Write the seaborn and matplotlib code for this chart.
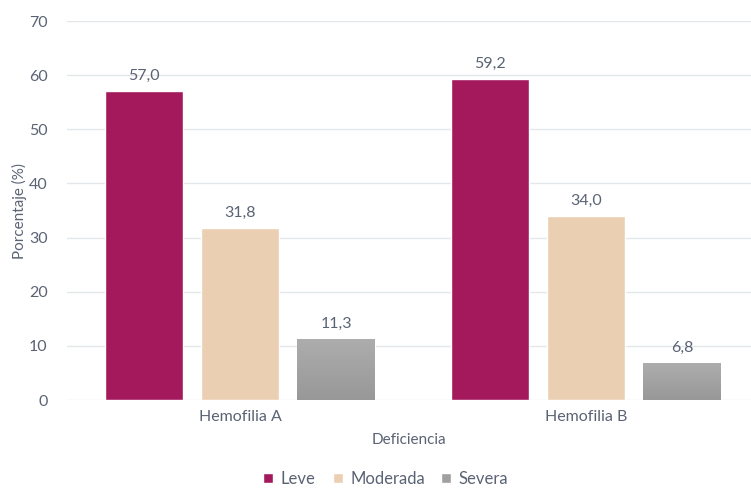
import matplotlib

matplotlib.use("Agg")

import matplotlib.pyplot as plt
import numpy as np
import pandas as pd
import seaborn as sns
from matplotlib.patches import Patch

CATEGORIES = ["Hemofilia A", "Hemofilia B"]
SEVERITIES = ["Leve", "Moderada", "Severa"]
LEVE = [57.0, 59.2]
MODERADA = [31.8, 34.0]
SEVERA = [11.3, 6.8]

PALETTE = {"Leve": "#a3195b", "Moderada": "#ebcfb2", "Severa": "#a0a0a0"}
TEXT = "#5a6374"


def main() -> None:
    sns.set_theme(style="white")
    plt.rcParams["font.family"] = ["Lato", "DejaVu Sans"]

    df = pd.DataFrame({
        "categoria": CATEGORIES * 3,
        "nivel": [s for s in SEVERITIES for _ in CATEGORIES],
        "valor": LEVE + MODERADA + SEVERA,
    })

    fig = plt.figure(figsize=(7.51, 4.9), dpi=100)
    ax = fig.add_axes([67 / 751, 90 / 490, 684 / 751, 379 / 490])

    sns.barplot(
        data=df, x="categoria", y="valor", hue="nivel",
        order=CATEGORIES, hue_order=SEVERITIES, palette=PALETTE,
        width=0.832, gap=0.1875, saturation=1, legend=False, ax=ax,
    )

    # soft vertical gradient on the "Severa" bars
    grad = np.linspace(0, 1, 256).reshape(-1, 1)
    cmap = matplotlib.colors.LinearSegmentedColormap.from_list("g", ["#989898", "#adadad"])
    for bar in ax.containers[2]:
        x0, y0 = bar.get_x(), bar.get_y()
        w, h = bar.get_width(), bar.get_height()
        im = ax.imshow(grad, extent=(x0, x0 + w, y0, y0 + h), origin="lower",
                       cmap=cmap, aspect="auto", zorder=bar.get_zorder())
        im.set_clip_path(bar)

    for container in ax.containers:
        labels = [f"{b.get_height():.1f}".replace(".", ",") for b in container]
        ax.bar_label(container, labels=labels, padding=6, fontsize=11.5, color=TEXT)

    ax.set_xlim(-0.5, 1.477)
    ax.set_ylim(0, 70)
    ax.set_yticks(range(0, 71, 10))
    ax.yaxis.grid(True, color="#e3e6ea", linewidth=1)
    ax.set_axisbelow(True)
    for s in ax.spines.values():
        s.set_visible(False)
    ax.tick_params(axis="both", length=0, labelsize=11.5, colors=TEXT)
    ax.tick_params(axis="y", pad=14)
    ax.tick_params(axis="x", pad=7)
    ax.set_xlabel("Deficiencia", fontsize=11, color=TEXT, labelpad=7)
    ax.set_ylabel("Porcentaje (%)", fontsize=11, color=TEXT, labelpad=1)

    handles = [Patch(facecolor=PALETTE[s], label=s) for s in SEVERITIES]
    fig.legend(handles=handles, loc="center", bbox_to_anchor=(386 / 751, 11 / 490),
               ncol=3, frameon=False, fontsize=12, labelcolor=TEXT,
               handlelength=0.6, handleheight=0.6, handletextpad=0.45, columnspacing=1.0)

    fig.savefig("out.png", dpi=100, facecolor="white")
    plt.close(fig)


if __name__ == "__main__":
    main()
